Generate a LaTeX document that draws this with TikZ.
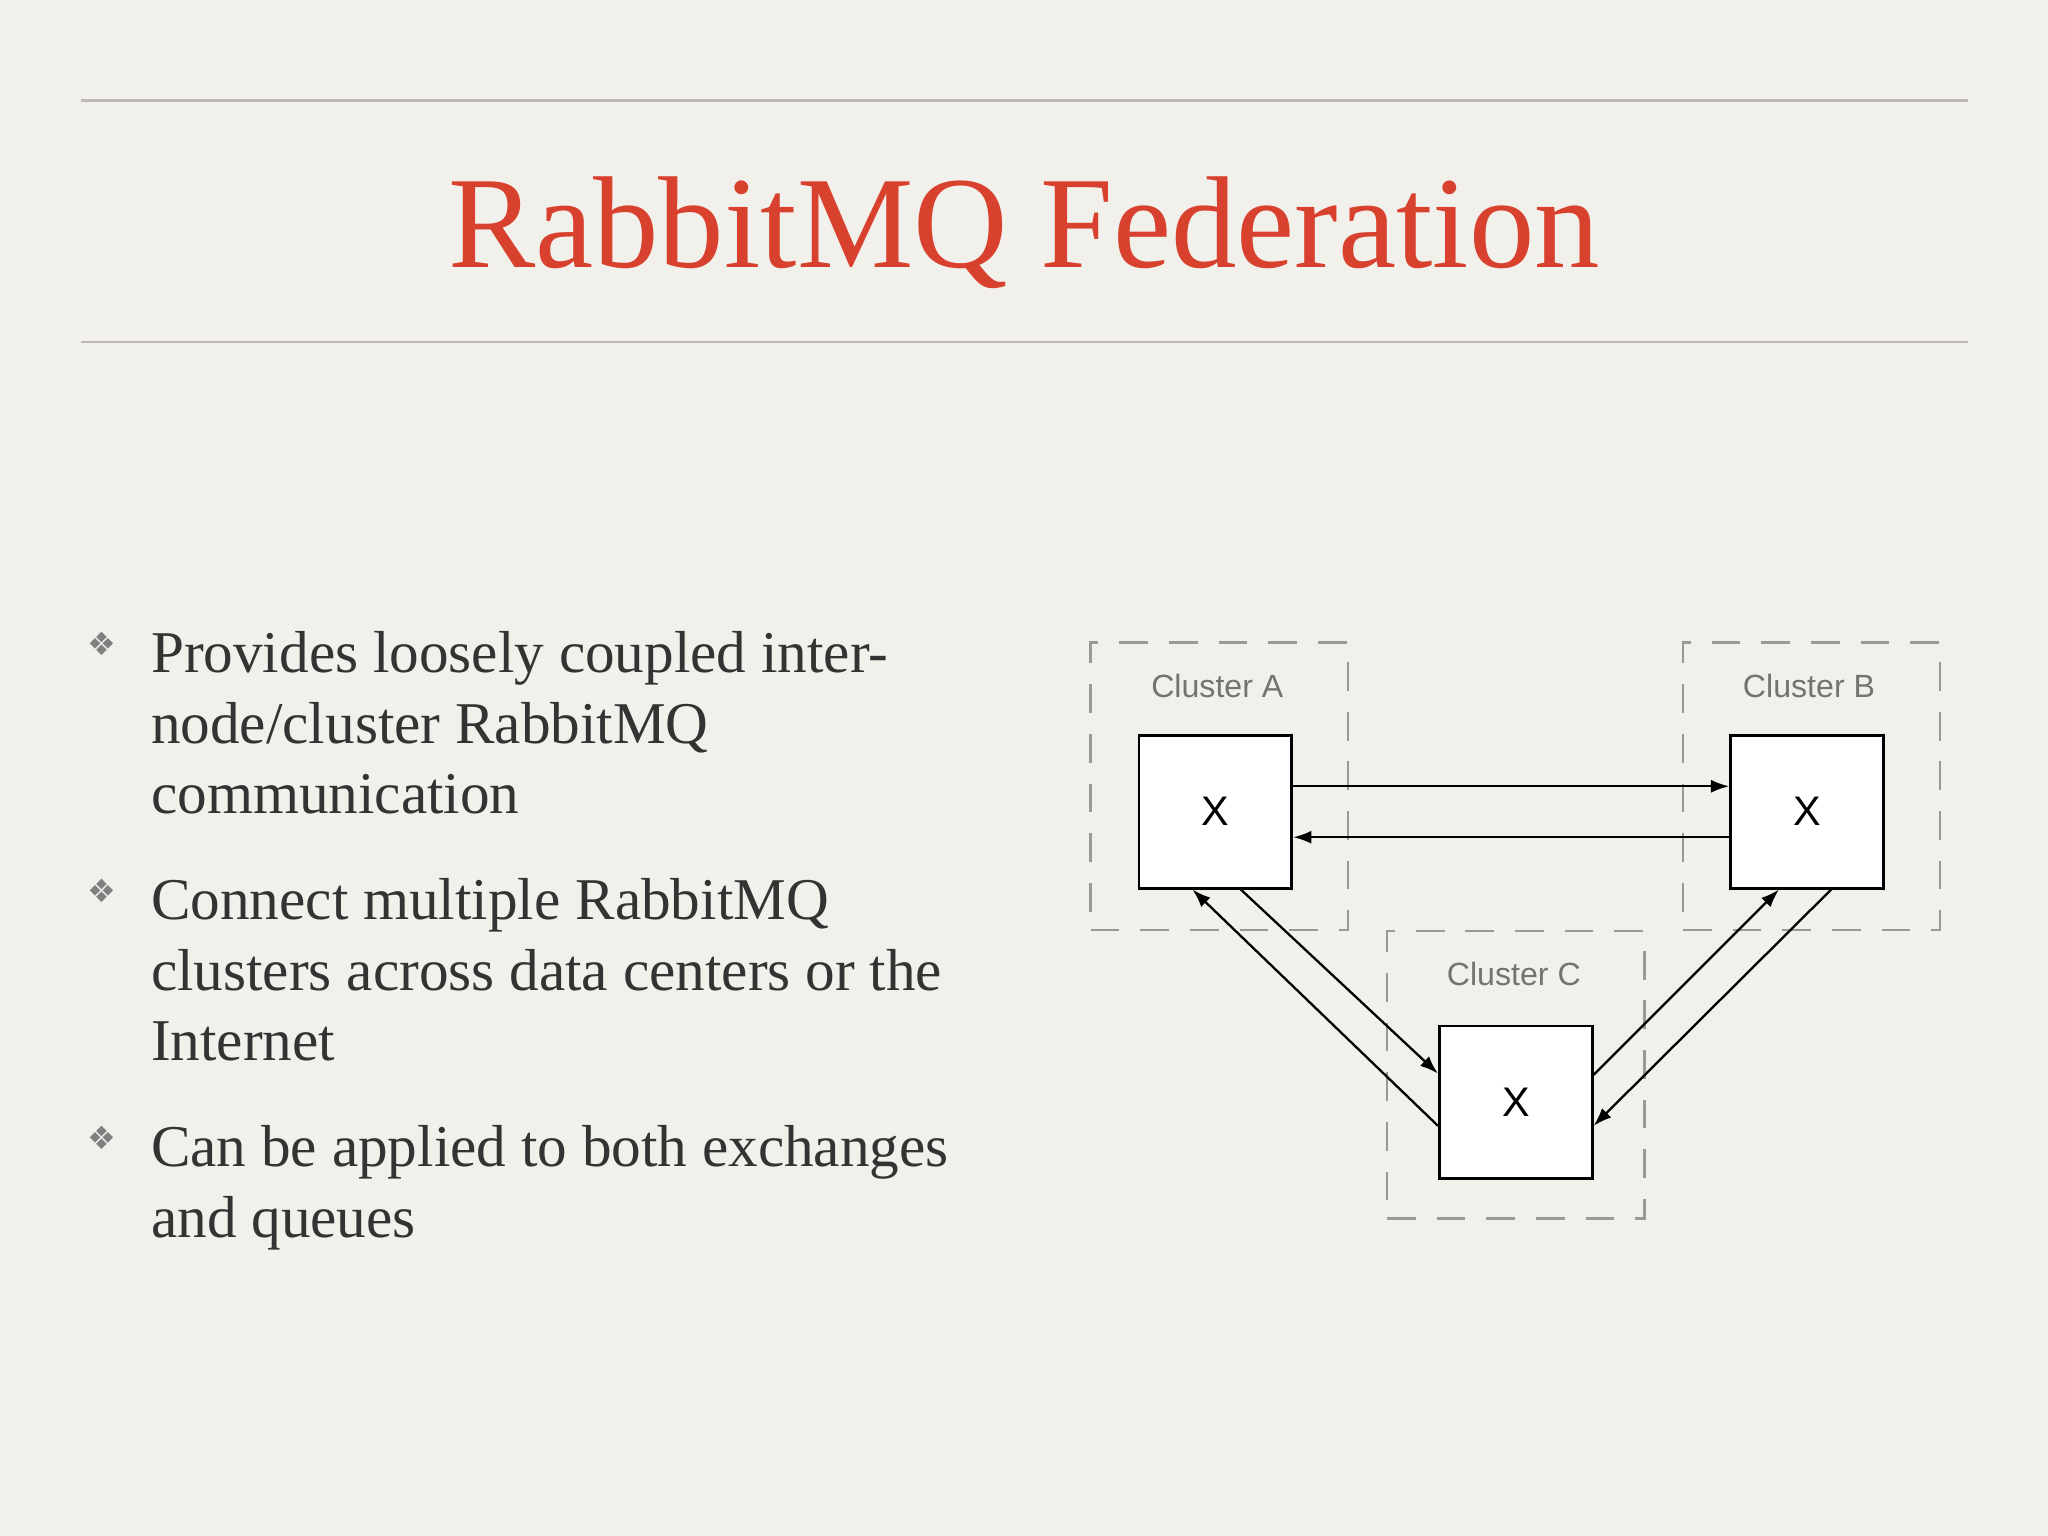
\documentclass[tikz,border=0pt]{standalone}
\usepackage{fontspec}
\setmainfont{Liberation Serif}
\newfontfamily\dejavu{DejaVu Sans}
\newfontfamily\lsans{Liberation Sans}
\usetikzlibrary{arrows.meta,calc}
\definecolor{bg}{HTML}{F2F0EB}
\definecolor{titlered}{HTML}{D9412F}
\definecolor{rulegray}{HTML}{BDBAB3}
\definecolor{txt}{HTML}{333333}
\tikzset{
  clus/.style={draw=gray!80,dashed,dash pattern=on 2.2mm off 1.6mm,line width=0.5pt,minimum width=1.97cm,minimum height=2.2cm},
  xbox/.style={draw=black,fill=white,line width=0.6pt,minimum width=1.17cm,minimum height=1.17cm,font=\lsans\fontsize{9}{9}\selectfont},
  clab/.style={text=gray!90!black,font=\lsans\fontsize{7}{7}\selectfont},
  arr/.style={-{Latex[length=1.4mm,width=1mm]},line width=0.5pt},
  bul/.style={anchor=north west,align=left,text=txt,font=\fontsize{12.9}{15.37}\selectfont,inner sep=0pt},
  dia/.style={text=gray,font=\dejavu\fontsize{7}{7}\selectfont}
}
\begin{document}
\begin{tikzpicture}[x=1cm,y=1cm]
\fill[bg] (0,0) rectangle (15.68,11.76);
\useasboundingbox (0,0) rectangle (15.68,11.76);
\draw[rulegray,line width=0.5pt] (0.62,10.99) -- (15.07,10.99);
\draw[rulegray,line width=0.5pt] (0.62,9.14) -- (15.07,9.14);
\node[text=titlered,font=\fontsize{28.5}{28.5}\selectfont] (title) at (7.84,9.98) {RabbitMQ Federation};
% bullets
\node[dia] (d1) at (0.78,6.83) {❖};
\node[dia] (d2) at (0.78,4.94) {❖};
\node[dia] (d3) at (0.78,3.05) {❖};
\node[bul] (b1) at (1.15,6.93) {Provides loosely coupled inter-\\node/cluster RabbitMQ\\communication};
\node[bul] (b2) at (1.15,5.04) {Connect multiple RabbitMQ\\clusters across data centers or the\\Internet};
\node[bul] (b3) at (1.15,3.15) {Can be applied to both exchanges\\and queues};
% clusters
\node[clus] (CA) at (9.335,5.74) {};
\node[clus] (CB) at (13.87,5.74) {};
\node[clus] (CC) at (11.605,3.53) {};
\node[clab] (la) at (9.32,6.51) {Cluster A};
\node[clab] (lb) at (13.85,6.51) {Cluster B};
\node[clab] (lc) at (11.59,4.30) {Cluster C};
\node[xbox] (A) at (9.305,5.545) {X};
\node[xbox] (B) at (13.835,5.545) {X};
\node[xbox] (C) at (11.605,3.32) {X};
\draw[arr] ([yshift=1.95mm]A.east) -- ([yshift=1.95mm]B.west);
\draw[arr] ([yshift=-1.95mm]B.west) -- ([yshift=-1.95mm]A.east);
\draw[arr] ([xshift=1.95mm]A.south) -- ([yshift=2.2mm]C.west);
\draw[arr] ([yshift=-1.8mm]C.west) -- ([xshift=-1.75mm]A.south);
\draw[arr] ([yshift=2.1mm]C.east) -- ([xshift=-2.15mm]B.south);
\draw[arr] ([xshift=1.85mm]B.south) -- ([yshift=-1.8mm]C.east);
\end{tikzpicture}
\end{document}
